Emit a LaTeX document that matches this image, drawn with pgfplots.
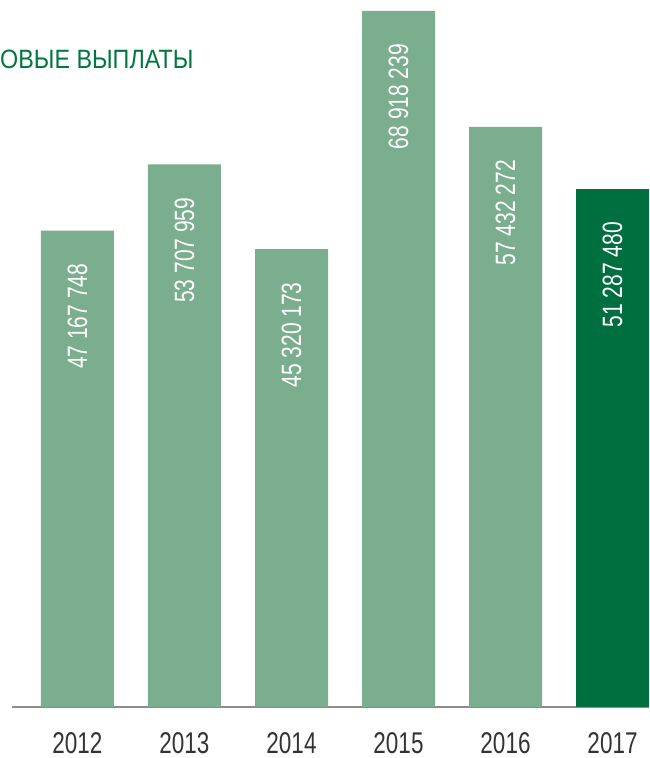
\documentclass[border=0pt]{standalone}
\usepackage{fontspec}
\setmainfont{Liberation Sans}[FakeStretch=0.75]
\newfontfamily\titlefont{Liberation Sans}[FakeStretch=0.88]
\usepackage{pgfplots}
\pgfplotsset{compat=1.18}
\definecolor{lg}{HTML}{7AAE8E}
\definecolor{dg}{HTML}{006F3F}
\definecolor{tg}{HTML}{00773F}
\definecolor{ax}{HTML}{8C8C8C}
\definecolor{tl}{HTML}{333333}
\begin{document}
\begin{tikzpicture}[x=1pt,y=1pt]
\useasboundingbox (0,0) rectangle (649,758);
\clip (0,0) rectangle (649,758);
\node[anchor=base west, inner sep=0pt, text=tg, font=\titlefont\fontsize{26.5}{30}\selectfont] at (0,689) {ОВЫЕ ВЫПЛАТЫ};
\begin{axis}[
  at={(12pt,51pt)}, anchor=south west,
  scale only axis, width=637pt, height=700pt,
  xmin=-0.612, xmax=5.341, ymin=0, ymax=69.3,
  axis x line*=bottom, axis y line=none,
  x axis line style={draw=ax, line width=1.5pt},
  xtick={0,1,2,3,4,5}, xticklabels={2012,2013,2014,2015,2016,2017},
  major tick length=0pt,
  xticklabel style={font=\fontsize{30}{30}\selectfont, text=tl, inner sep=0pt, anchor=north, yshift=-25pt},
  /pgf/number format/assume math mode=true,
  ybar, bar width=73pt, bar shift=0pt,
  nodes near coords, point meta=explicit symbolic,
  every node near coord/.append style={font=\fontsize{28}{28}\selectfont, text=white, yshift=-33pt, rotate=90, anchor=east, inner sep=0pt},
]
\addplot[fill=lg, draw=none] coordinates {
  (0,47.167748) [47 167 748]
  (1,53.707959) [53 707 959]
  (2,45.320173) [45 320 173]
  (3,68.918239) [68 918 239]
  (4,57.432272) [57 432 272]
};
\addplot[fill=dg, draw=none] coordinates {
  (5,51.287480) [51 287 480]
};
\end{axis}
\end{tikzpicture}
\end{document}
